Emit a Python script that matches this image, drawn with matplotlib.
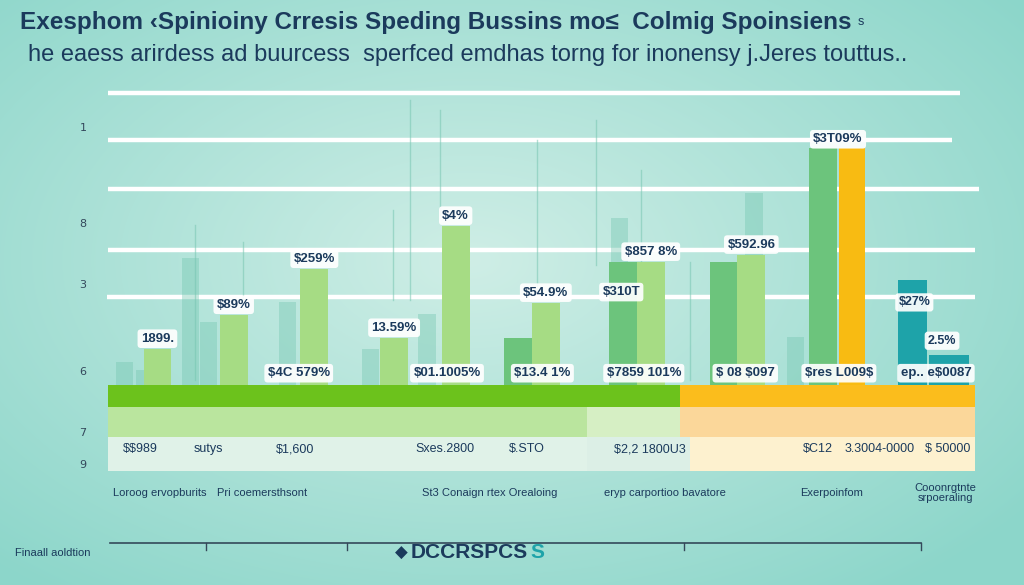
import numpy as np
import matplotlib.pyplot as plt
from matplotlib.patches import Rectangle

plt.rcParams['text.parse_math'] = False

# ---- data ----
title = "Exesphom \u2039Spinioiny Crresis Speding Bussins mo\u2264  Colmig Spoinsiens"
subtitle = "he eaess arirdess ad buurcess  sperfced emdhas torng for inonensy j.Jeres touttus.."

# chart units: x 0..10 over the plot width, y 0..100 over the plot height
light_pos = [0.57, 1.45, 2.38, 3.30, 4.01, 5.05, 6.26, 7.42]
light_val = [12.2, 23.7, 39.3, 15.9, 53.9, 27.8, 41.7, 44.1]
light_lbl = ["1899.", "$89%", "$259%", "13.59%", "$4%", "$54.9%", "$857 8%", "$592.96"]

mid_pos = [4.73, 5.94, 7.10, 8.25]
mid_val = [15.9, 41.7, 41.7, 80.3]

gold_pos = [8.58]
gold_val = [80.3]
gold_lbl = ["$3T09%"]

teal_pos = [9.28, 9.70]
teal_val = [35.6, 10.2]
teal_w = [0.34, 0.46]
teal_lbl = ["$27%", "2.5%"]

faded_pos = [0.19, 0.42, 1.16, 2.07, 3.03, 3.68, 5.9, 7.45, 7.93, 0.95]
faded_val = [7.8, 5.1, 21.4, 28.1, 12.2, 24.1, 56.6, 65.1, 16.3, 43.0]

bottom_lbl = ["$4C 579%", "$01.1005%", "$13.4 1%", "$7859 101%", "$ 08 $097", "$res L009$", "ep.. e$0087"]
bottom_pos = [2.20, 3.91, 5.01, 6.18, 7.35, 8.43, 9.55]

row_vals = ["$$989", "sutys", "$1,600", "Sxes.2800", "$.STO", "$2,2 1800U3", "$C12", "3.3004-0000", "$ 50000"]
row_x = [140, 208, 295, 445, 527, 650, 818, 880, 948]

cats = ["Loroog ervopburits", "Pri coemersthsont", "St3 Conaign rtex Orealoing",
        "eryp carportioo bavatore", "Exerpoinfom", "Cooonrgtnte\nsrpoeraling"]
cat_x = [160, 262, 490, 665, 832, 945]

side_ticks = ["1", "8", "3", "6", "7", "9"]
side_y = [128, 224, 285, 372, 433, 465]

NAVY = "#1b3a5c"
LIGHT = "#a6dc84"
MID = "#6cc47c"
GOLD = "#f8bb12"
TEAL = "#1ea3a9"
FONT = ["Liberation Sans", "DejaVu Sans"]

fig = plt.figure(figsize=(10.24, 5.85), dpi=100)

# background in pixel coordinates
bg = fig.add_axes([0, 0, 1, 1])
bg.set_xlim(0, 1024)
bg.set_ylim(585, 0)
bg.axis("off")
yy, xx = np.mgrid[0:585, 0:1024]
r = np.sqrt(((xx - 470) / 700.0) ** 2 + ((yy - 260) / 420.0) ** 2)
r = np.clip(r, 0, 1)[..., None]
c0 = np.array([0xcf, 0xee, 0xe6]) / 255.0
c1 = np.array([0x8c, 0xd6, 0xca]) / 255.0
bg.imshow(c0 * (1 - r) + c1 * r, extent=(0, 1024, 585, 0), aspect="auto", zorder=0)

# white grid lines
for y, x0, x1 in [(93, 108, 960), (140, 108, 952), (189, 108, 979), (250, 108, 975), (297, 107, 975)]:
    bg.plot([x0, x1], [y, y], color="white", lw=3.2, solid_capstyle="butt", zorder=1)

# faint vertical stems
for x, y0, y1 in [(410, 100, 300), (440, 110, 215), (537, 140, 290), (596, 120, 265),
                  (641, 170, 262), (690, 262, 380), (195, 225, 380), (243, 242, 300), (393, 210, 300)]:
    bg.plot([x, x], [y0, y1], color="#78c6b2", lw=1, alpha=0.55, zorder=1)

bg.text(20, 22, title, fontsize=17.5, fontweight="bold", color=NAVY, family=FONT, va="center", ha="left")
bg.text(858, 22, "s", fontsize=9, color=NAVY, family=FONT, va="center")
bg.text(28, 55, subtitle, fontsize=17, color=NAVY, family=FONT, va="center", ha="left")

for t, y in zip(side_ticks, side_y):
    bg.text(83, y, t, fontsize=8, color="#33475b", ha="center", va="center")

# coloured bands under the bars
bands = [(108, 385, 572, 22, "#6cc21c"), (680, 385, 295, 22, "#fbbd1c"),
         (108, 407, 479, 30, "#bae59e"), (587, 407, 93, 30, "#d6efc4"), (680, 407, 295, 30, "#fbd79a"),
         (108, 437, 479, 34, "#e0f2e8"), (587, 437, 103, 34, "#dcefe6"), (690, 437, 285, 34, "#fdf1cf")]
for x, y, w, h, c in bands:
    bg.add_patch(Rectangle((x, y), w, h, color=c, lw=0, zorder=2))

for t, x in zip(row_vals, row_x):
    bg.text(x, 449, t, fontsize=9, color=NAVY, family=FONT, ha="center", va="center", zorder=3)

for t, x in zip(cats, cat_x):
    bg.text(x, 493, t, fontsize=8, color=NAVY, family=FONT, ha="center", va="center", linespacing=1.1)

bg.plot([110, 921], [543, 543], color="#34495a", lw=1.2)
for x in [206, 347, 684, 921]:
    bg.plot([x, x], [543, 550], color="#34495a", lw=1)

bg.text(15, 553, "Finaall aoldtion", fontsize=8, color=NAVY, family=FONT, va="center")
bg.text(401, 553, "\u25c6", fontsize=12, color=NAVY, va="center", ha="center")
bg.text(411, 553, "DCCRSPCS", fontsize=15, fontweight="bold", color=NAVY, family=FONT, va="center")
bg.text(530, 553, "S", fontsize=15, fontweight="bold", color=TEAL, family=FONT, va="center")

# bar chart axes laid over the plot area (px 108..975, 90..385)
ax = fig.add_axes([108 / 1024, 200 / 585, 867 / 1024, 295 / 585])
ax.patch.set_alpha(0)
ax.set_xlim(0, 10)
ax.set_ylim(0, 100)
ax.axis("off")

ax.bar(faded_pos, faded_val, width=0.2, color="#74c6b0", alpha=0.4, zorder=1)
ax.bar(mid_pos, mid_val, width=0.32, color=MID, zorder=2)
ax.bar(light_pos, light_val, width=0.32, color=LIGHT, zorder=3)
ax.bar(gold_pos, gold_val, width=0.3, color=GOLD, zorder=3)
ax.bar(teal_pos, teal_val, width=teal_w, color=TEAL, zorder=3)

box = dict(boxstyle="round,pad=0.25", fc="white", ec="none", alpha=0.92)
for x, v, t in zip(light_pos, light_val, light_lbl):
    ax.text(x, v + 3.5, t, fontsize=9.5, fontweight="bold", color=NAVY, family=FONT,
            ha="center", va="center", bbox=box, zorder=5)
ax.text(8.42, gold_val[0] + 3, gold_lbl[0], fontsize=9.5, fontweight="bold", color=NAVY,
        family=FONT, ha="center", va="center", bbox=box, zorder=5)
ax.text(5.92, 31.5, "$310T", fontsize=9.5, fontweight="bold", color=NAVY, family=FONT,
        ha="center", va="center", bbox=box, zorder=5)
ax.text(9.3, 28.0, teal_lbl[0], fontsize=9, fontweight="bold", color=NAVY, family=FONT,
        ha="center", va="center", bbox=box, zorder=5)
ax.text(9.62, 15.0, teal_lbl[1], fontsize=9, fontweight="bold", color=NAVY, family=FONT,
        ha="center", va="center", bbox=box, zorder=5)
for x, t in zip(bottom_pos, bottom_lbl):
    ax.text(x, 4.0, t, fontsize=9.5, fontweight="bold", color=NAVY, family=FONT,
            ha="center", va="center", bbox=box, zorder=5)

fig.savefig("out.png", dpi=100)
